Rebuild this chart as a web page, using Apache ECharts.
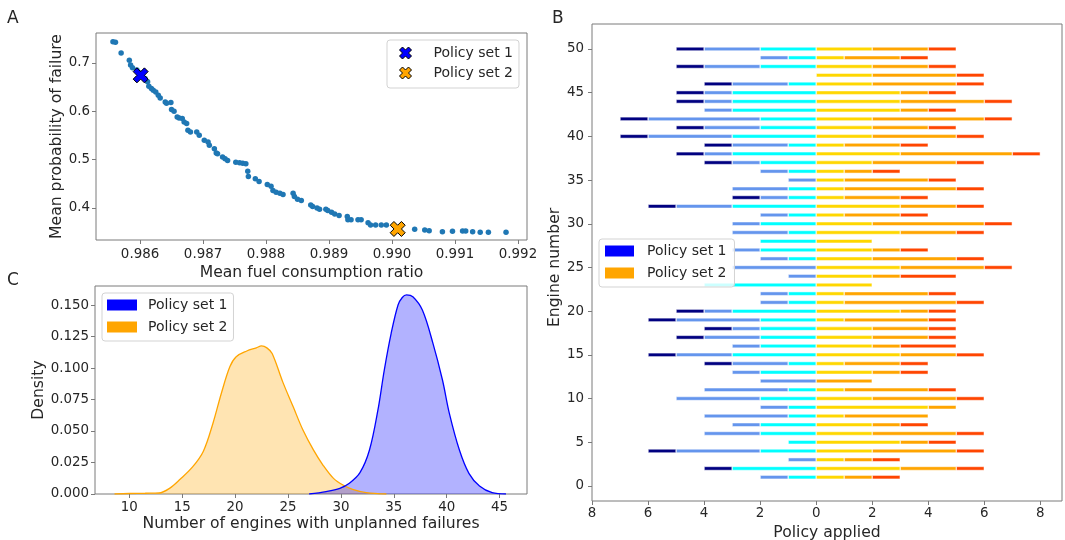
<!DOCTYPE html>
<html>
<head>
<meta charset="utf-8">
<script src="https://cdn.jsdelivr.net/npm/echarts@6.0.0/dist/echarts.min.js"></script>
<style>
    html, body { margin: 0; padding: 0; background: #fff; }
    #chart { width: 1065px; height: 540px; }
</style>
</head>
<body>
<div id="chart"></div>
<script>
// A: pareto front
var paretoFuel = [0.98557, 0.98561, 0.98570, 0.98583, 0.98585, 0.98588, 0.98595, 0.98598, 0.98604, 0.98608,
    0.98612, 0.98614, 0.98618, 0.98621, 0.98625, 0.98629, 0.98632, 0.98640, 0.98642, 0.98649,
    0.98650, 0.98654, 0.98659, 0.98662, 0.98667, 0.98670, 0.98674, 0.98676, 0.98680, 0.98690,
    0.98694, 0.98702, 0.98708, 0.98710, 0.98718, 0.98721, 0.98723, 0.98731, 0.98735, 0.98739,
    0.98752, 0.98758, 0.98763, 0.98768, 0.98771, 0.98772, 0.98783, 0.98789, 0.98802, 0.98808,
    0.98811, 0.98816, 0.98822, 0.98827, 0.98843, 0.98845, 0.98850, 0.98856, 0.98871, 0.98874,
    0.98881, 0.98885, 0.98895, 0.98898, 0.98904, 0.98909, 0.98916, 0.98929, 0.98930, 0.98935,
    0.98946, 0.98951, 0.98962, 0.98966, 0.98974, 0.98983, 0.98991, 0.99036, 0.99052, 0.99059,
    0.99080, 0.99096, 0.99112, 0.99117, 0.99128, 0.99140, 0.99153, 0.99181];
var paretoFail = [0.7436, 0.7423, 0.7201, 0.7050, 0.6952, 0.6896, 0.6849, 0.6800, 0.6710, 0.6676,
    0.6606, 0.6517, 0.6469, 0.6434, 0.6398, 0.6330, 0.6274, 0.6191, 0.6164, 0.6178,
    0.6033, 0.5998, 0.5880, 0.5859, 0.5846, 0.5776, 0.5743, 0.5604, 0.5568, 0.5568,
    0.5500, 0.5396, 0.5361, 0.5293, 0.5224, 0.5133, 0.5120, 0.5050, 0.5017, 0.4981,
    0.4946, 0.4934, 0.4925, 0.4913, 0.4759, 0.4649, 0.4602, 0.4546, 0.4483, 0.4448,
    0.4359, 0.4324, 0.4303, 0.4276, 0.4303, 0.4234, 0.4178, 0.4151, 0.4062, 0.4027,
    0.4000, 0.3971, 0.3971, 0.3944, 0.3909, 0.3876, 0.3840, 0.3820, 0.3757, 0.3757,
    0.3757, 0.3757, 0.3695, 0.3647, 0.3647, 0.3647, 0.3647, 0.3556, 0.3543, 0.3529,
    0.3508, 0.3515, 0.3523, 0.3523, 0.3508, 0.3494, 0.3494, 0.3494];
var set1Point = [0.98601, 0.674];
var set2Point = [0.99009, 0.3564];
var fuelTicks = [0.986, 0.987, 0.988, 0.989, 0.990, 0.991, 0.992];
var failTicks = [0.4, 0.5, 0.6, 0.7];

// C: density of unplanned failures
var failuresSet1 = [27.0, 28.6, 29.9, 30.8, 31.8, 32.7, 33.5, 34.1, 34.75, 35.4, 35.8, 36.2, 36.8, 37.7, 38.7, 39.6, 40.25, 41.2, 42.1, 43.1, 44.3, 45.6];
var densitySet1 = [0, 0.0019, 0.0045, 0.0085, 0.0169, 0.0349, 0.0667, 0.0984, 0.1275, 0.1500, 0.1560, 0.1580, 0.1566, 0.1460, 0.1196, 0.0905, 0.0640, 0.0349, 0.0164, 0.0063, 0.0010, 0];
var failuresSet2 = [8.6, 10.0, 11.5, 12.8, 13.8, 14.8, 16.0, 17.0, 17.9, 18.7, 19.5, 20.1, 21.1, 22.0, 22.5, 23.0, 23.5, 24.5, 25.5, 26.4, 27.4, 28.3, 29.3, 30.2, 31.1, 32.4, 34.3];
var densitySet2 = [0, 0.0004, 0.0006, 0.0008, 0.0045, 0.0117, 0.0217, 0.0340, 0.0560, 0.0800, 0.1010, 0.1090, 0.1135, 0.1160, 0.1175, 0.1160, 0.1115, 0.0890, 0.0690, 0.0510, 0.0350, 0.0230, 0.0124, 0.0071, 0.0037, 0.0011, 0];
var failureTicks = [10, 15, 20, 25, 30, 35, 40, 45];
var densityTicks = [0, 0.025, 0.05, 0.075, 0.1, 0.125, 0.15];

// B: policies applied per engine (engine 0..50), set 1 to the left, set 2 to the right
var set1Cyan = [0,1,3,0,2,1,2,2,1,1,2,1,0,2,1,3,2,2,2,2,3,1,1,4,0,0,1,2,2,1,2,1,3,1,1,0,1,2,3,1,3,2,2,3,3,3,1,0,2,1,2];
var set1Blue = [0,1,0,1,3,0,2,1,3,1,3,3,2,1,2,2,1,2,1,3,1,1,1,0,1,3,1,1,0,2,1,1,2,1,2,1,1,1,1,2,3,2,4,1,1,1,2,0,2,1,2];
var set1Navy = [0,0,1,0,1,0,0,0,0,0,0,0,0,0,1,1,0,1,1,1,1,0,0,0,0,0,0,0,0,0,0,0,1,1,0,0,0,1,1,1,1,1,1,0,1,1,1,0,1,0,1];
var set2Gold = [0,1,3,1,2,3,2,2,1,4,2,1,0,2,1,3,2,2,2,1,3,1,1,2,2,3,2,2,2,3,2,1,3,1,1,1,1,2,3,1,2,2,2,3,3,3,2,2,2,1,2];
var set2Orange = [0,1,2,1,3,1,3,1,3,1,3,3,2,1,2,2,1,2,2,3,1,4,3,0,1,3,3,1,0,2,4,2,2,2,4,3,1,3,4,2,3,2,4,1,3,1,3,3,2,2,2];
var set2Red = [0,1,1,1,1,1,1,1,0,0,1,1,0,1,1,1,2,1,1,1,1,1,1,0,2,1,1,1,0,1,1,1,1,1,1,1,1,1,1,1,1,1,1,1,1,1,1,1,1,1,1];
var policyTicks = [-8, -6, -4, -2, 0, 2, 4, 6, 8];

var engineIds = [];
for (var i = 0; i < set1Cyan.length; i++) {
    engineIds.push(String(i));
}

var xSymbol = 'path://M2.5,0L5,2.5L7.5,0L10,2.5L7.5,5L10,7.5L7.5,10L5,7.5L2.5,10L0,7.5L2.5,5L0,2.5Z';
var textColor = '#262626';
var frameColor = '#7a7a7a';

function merge(base, extra) {
    var out = {};
    var k;
    for (k in base) out[k] = base[k];
    for (k in extra) out[k] = extra[k];
    return out;
}

function pairs(xs, ys) {
    var out = [];
    for (var i = 0; i < xs.length; i++) {
        out.push([xs[i], ys[i]]);
    }
    return out;
}

function side(values, sign) {
    return values.map(function (v) {
        return v === 0 ? null : sign * v;
    });
}

function barSeries(name, values, sign, color) {
    return {
        name: name,
        type: 'bar',
        xAxisIndex: 3,
        yAxisIndex: 3,
        stack: 'policy',
        barWidth: 4,
        data: side(values, sign),
        itemStyle: {color: color, borderColor: '#fff', borderWidth: 0.5}
    };
}

var tickStyle = {show: true, length: 4, lineStyle: {color: frameColor}};
var labelStyle = {color: textColor, fontSize: 13.4, margin: 6};
var nameStyle = {color: textColor, fontSize: 15.6};
var noLine = {show: false, onZero: false};
var legendBox = {
    orient: 'vertical',
    selectedMode: false,
    backgroundColor: 'rgba(255,255,255,0.8)',
    borderColor: '#d3d3d3',
    borderWidth: 1,
    borderRadius: 3
};

var chart = echarts.init(document.getElementById('chart'));
var option = {
    animation: false,
    backgroundColor: '#fff',
    textStyle: {fontFamily: 'DejaVu Sans'},
    title: [
        {text: 'A', left: 7, top: 10, padding: 0, textStyle: {fontSize: 17, fontWeight: 'normal', color: textColor}},
        {text: 'B', left: 552, top: 10, padding: 0, textStyle: {fontSize: 17, fontWeight: 'normal', color: textColor}},
        {text: 'C', left: 7, top: 272, padding: 0, textStyle: {fontSize: 17, fontWeight: 'normal', color: textColor}}
    ],
    legend: [
        merge(legendBox, {
            left: 387, top: 40, padding: [6, 6, 8, 12], itemWidth: 12, itemHeight: 12, itemGap: 6,
            textStyle: {color: textColor, fontSize: 14, lineHeight: 14, padding: [0, 0, 0, 17]},
            data: [
                {name: 'Policy set 1', icon: xSymbol, itemStyle: {color: '#0000ff', borderColor: '#000', borderWidth: 1}},
                {name: 'Policy set 2', icon: xSymbol, itemStyle: {color: '#ffa500', borderColor: '#000', borderWidth: 1}}
            ]
        }),
        merge(legendBox, {
            left: 599, top: 239, padding: [5, 8, 7, 6], itemWidth: 29, itemHeight: 11, itemGap: 8,
            textStyle: {color: textColor, fontSize: 14, lineHeight: 14, padding: [0, 0, 0, 8]},
            data: [
                {name: 'Policy set 1', icon: 'rect', itemStyle: {color: '#0000ff', borderWidth: 0}},
                {name: 'Policy set 2', icon: 'rect', itemStyle: {color: '#ffa500', borderWidth: 0}}
            ]
        }),
        merge(legendBox, {
            left: 102, top: 293, padding: [5, 6, 7, 5], itemWidth: 30, itemHeight: 11, itemGap: 8,
            textStyle: {color: textColor, fontSize: 14, lineHeight: 14, padding: [0, 0, 0, 6]},
            data: [
                {name: 'Policy set 1', icon: 'rect', itemStyle: {color: '#0000ff', borderWidth: 0}},
                {name: 'Policy set 2', icon: 'rect', itemStyle: {color: '#ffa500', borderWidth: 0}}
            ]
        })
    ],
    grid: [
        {left: 96, top: 33, width: 431, height: 207, outerBoundsMode: 'none', show: true, borderColor: frameColor, borderWidth: 1},
        {left: 95, top: 286, width: 432, height: 208, outerBoundsMode: 'none', show: true, borderColor: frameColor, borderWidth: 1},
        {left: 592, top: 24, width: 470, height: 477, outerBoundsMode: 'none', show: true, borderColor: frameColor, borderWidth: 1},
        {left: 592, top: 44.6, width: 470, height: 445.7, outerBoundsMode: 'none'}
    ],
    xAxis: [
        {
            type: 'value', gridIndex: 0, min: 0.985301, max: 0.992143,
            name: 'Mean fuel consumption ratio', nameLocation: 'middle', nameGap: 25, nameTextStyle: nameStyle,
            axisLine: noLine, splitLine: {show: false},
            axisTick: merge(tickStyle, {customValues: fuelTicks}),
            axisLabel: merge(labelStyle, {customValues: fuelTicks, margin: 8, formatter: function (v) { return v.toFixed(3); }})
        },
        {
            type: 'value', gridIndex: 1, min: 6.755, max: 47.59,
            name: 'Number of engines with unplanned failures', nameLocation: 'middle', nameGap: 22, nameTextStyle: nameStyle,
            axisLine: noLine, splitLine: {show: false},
            axisTick: merge(tickStyle, {customValues: failureTicks}),
            axisLabel: merge(labelStyle, {customValues: failureTicks, margin: 7})
        },
        {
            type: 'value', gridIndex: 2, min: -8, max: 8.774,
            name: 'Policy applied', nameLocation: 'middle', nameGap: 21, nameTextStyle: nameStyle,
            axisLine: noLine, splitLine: {show: false},
            axisTick: merge(tickStyle, {customValues: policyTicks}),
            axisLabel: merge(labelStyle, {customValues: policyTicks, margin: 6, formatter: function (v) { return String(Math.abs(v)); }})
        },
        {type: 'value', gridIndex: 3, min: -8, max: 8.774, show: false, axisLine: noLine}
    ],
    yAxis: [
        {
            type: 'value', gridIndex: 0, min: 0.3336, max: 0.7616,
            name: 'Mean probability of failure', nameLocation: 'middle', nameGap: 31, nameTextStyle: nameStyle,
            axisLine: noLine, splitLine: {show: false},
            axisTick: merge(tickStyle, {customValues: failTicks}),
            axisLabel: merge(labelStyle, {customValues: failTicks, formatter: function (v) { return v.toFixed(1); }})
        },
        {
            type: 'value', gridIndex: 1, min: 0, max: 0.1651,
            name: 'Density', nameLocation: 'middle', nameGap: 47, nameTextStyle: nameStyle,
            axisLine: noLine, splitLine: {show: false},
            axisTick: merge(tickStyle, {customValues: densityTicks}),
            axisLabel: merge(labelStyle, {customValues: densityTicks, formatter: function (v) { return v.toFixed(3); }})
        },
        {type: 'value', gridIndex: 2, show: false, axisLine: noLine},
        {
            type: 'category', gridIndex: 3, data: engineIds,
            name: 'Engine number', nameLocation: 'middle', nameGap: 24, nameTextStyle: nameStyle,
            axisLine: noLine, splitLine: {show: false},
            axisTick: merge(tickStyle, {interval: 4, alignWithLabel: true}),
            axisLabel: merge(labelStyle, {interval: 4, margin: 8})
        }
    ],
    series: [
        {
            name: 'Policy set 1', type: 'scatter', xAxisIndex: 0, yAxisIndex: 0, z: 5,
            symbol: xSymbol, symbolSize: 15, data: [set1Point],
            itemStyle: {color: '#0000ff', borderColor: '#000', borderWidth: 1, opacity: 1}
        },
        {
            name: 'Policy set 2', type: 'scatter', xAxisIndex: 0, yAxisIndex: 0, z: 5,
            symbol: xSymbol, symbolSize: 15, data: [set2Point],
            itemStyle: {color: '#ffa500', borderColor: '#000', borderWidth: 1, opacity: 1}
        },
        {
            name: 'Pareto front', type: 'scatter', xAxisIndex: 0, yAxisIndex: 0,
            symbolSize: 5.5, data: pairs(paretoFuel, paretoFail),
            itemStyle: {color: '#1f77b4', opacity: 1}
        },
        {
            name: 'Policy set 2', type: 'line', xAxisIndex: 1, yAxisIndex: 1,
            data: pairs(failuresSet2, densitySet2), showSymbol: false, smooth: 0.35,
            lineStyle: {color: '#ffa500', width: 1.3},
            itemStyle: {color: '#ffa500'},
            areaStyle: {color: 'rgba(255,165,0,0.3)', opacity: 1}
        },
        {
            name: 'Policy set 1', type: 'line', xAxisIndex: 1, yAxisIndex: 1,
            data: pairs(failuresSet1, densitySet1), showSymbol: false, smooth: 0.35,
            lineStyle: {color: '#0000ff', width: 1.3},
            itemStyle: {color: '#0000ff'},
            areaStyle: {color: 'rgba(0,0,255,0.3)', opacity: 1}
        },
        barSeries('Set 1 step 1', set1Cyan, -1, '#00ffff'),
        barSeries('Set 1 step 2', set1Blue, -1, '#6495ed'),
        barSeries('Set 1 step 3', set1Navy, -1, '#000080'),
        barSeries('Set 2 step 1', set2Gold, 1, '#ffd700'),
        barSeries('Set 2 step 2', set2Orange, 1, '#ffa500'),
        barSeries('Set 2 step 3', set2Red, 1, '#ff4500')
    ]
};

chart.setOption(option);
</script>
</body>
</html>
